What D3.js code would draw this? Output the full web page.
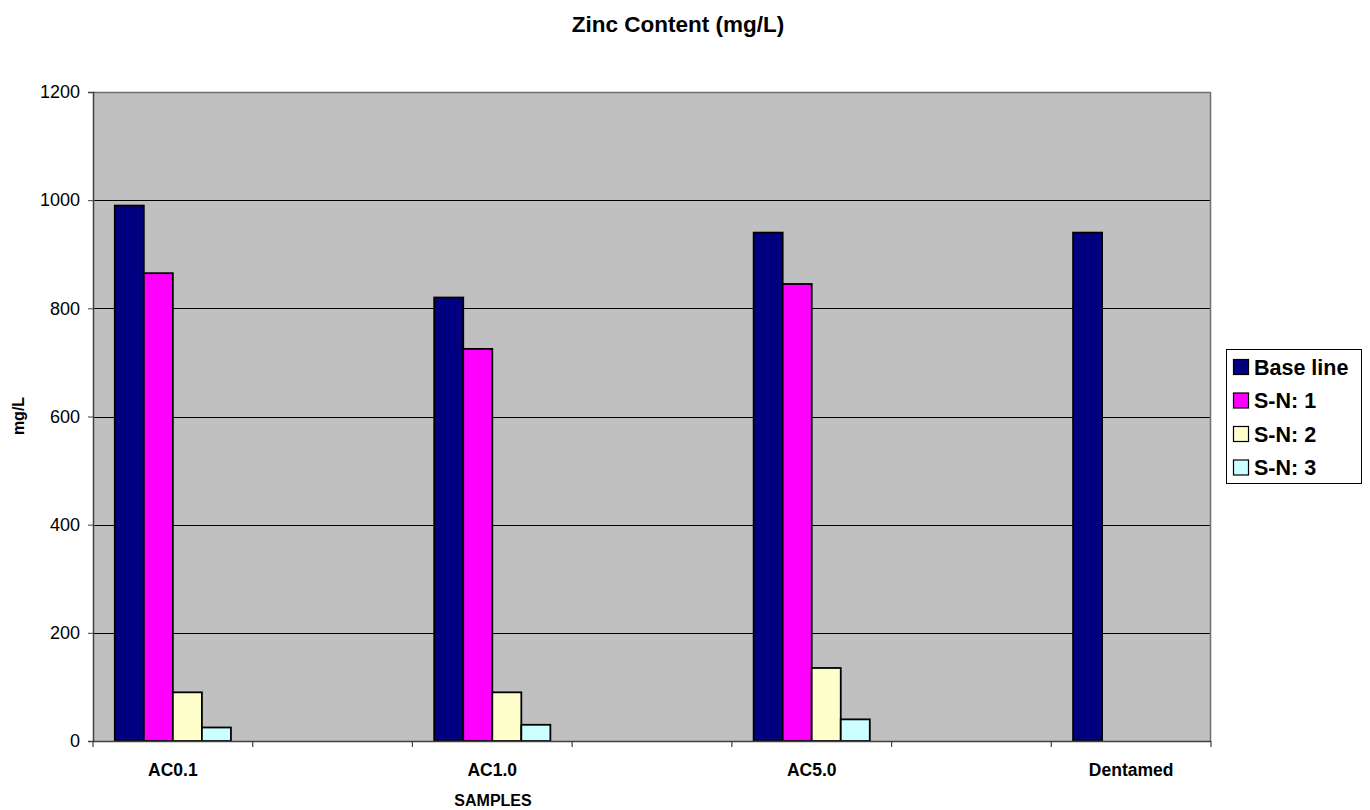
<!DOCTYPE html>
<html>
<head>
<meta charset="utf-8">
<script src="https://cdn.jsdelivr.net/npm/d3@7"></script>
<style>
  html, body { margin: 0; padding: 0; background: #ffffff; }
  svg { display: block; font-family: "Liberation Sans", Arial, sans-serif; }
</style>
</head>
<body>
<svg id="chart" width="1370" height="810"></svg>
<script>
// Sample groups along the x axis (blank slots keep the spacing between groups)
const categories = ["AC0.1", "", "AC1.0", "", "AC5.0", "", "Dentamed"];
const seriesNames = ["Base line", "S-N: 1", "S-N: 2", "S-N: 3"];
const seriesColors = ["#000080", "#FF00FF", "#FFFFCC", "#CCFFFF"];

// Zinc content per series, one value per category slot (null = no bar)
const baseLine = [990, null, 820, null, 940, null, 940];
const sn1      = [865, null, 725, null, 845, null, null];
const sn2      = [90,  null, 90,  null, 135, null, null];
const sn3      = [25,  null, 30,  null, 40,  null, null];
const seriesValues = [baseLine, sn1, sn2, sn3];

const yTicks = [0, 200, 400, 600, 800, 1000, 1200];

const svg = d3.select("#chart");
const plot = { left: 93, right: 1211, top: 92, bottom: 741 };

const x0 = d3.scaleBand()
  .domain(d3.range(categories.length))
  .range([plot.left, plot.right])
  .paddingInner(0).paddingOuter(0);

const x1 = d3.scaleBand()
  .domain(d3.range(seriesNames.length))
  .range([0, x0.bandwidth()])
  .paddingInner(0).paddingOuter(0.75);

const y = d3.scaleLinear().domain([0, 1200]).range([plot.bottom, plot.top]);

// plot background
svg.append("rect")
  .attr("x", plot.left).attr("y", plot.top)
  .attr("width", plot.right - plot.left).attr("height", plot.bottom - plot.top)
  .attr("fill", "#C0C0C0");

// horizontal gridlines
svg.append("g")
  .selectAll("line")
  .data(yTicks.filter(d => d > 0 && d < 1200))
  .join("line")
  .attr("x1", plot.left).attr("x2", plot.right)
  .attr("y1", d => Math.round(y(d)) + 0.5).attr("y2", d => Math.round(y(d)) + 0.5)
  .attr("stroke", "#000").attr("stroke-width", 1);

// plot border (top and right)
svg.append("path")
  .attr("d", `M${plot.left},${plot.top + 0.5}H${plot.right - 0.5}V${plot.bottom}`)
  .attr("fill", "none").attr("stroke", "#707070").attr("stroke-width", 1.5);

// bars
const groups = svg.append("g")
  .selectAll("g")
  .data(seriesValues)
  .join("g")
  .attr("fill", (d, i) => seriesColors[i]);

groups.selectAll("rect")
  .data((vals, si) => vals.map((v, ci) => ({ v, ci, si })).filter(d => d.v != null))
  .join("rect")
  .attr("x", d => x0(d.ci) + x1(d.si))
  .attr("y", d => y(d.v))
  .attr("width", x1.bandwidth())
  .attr("height", d => y(0) - y(d.v))
  .attr("stroke", "#000").attr("stroke-width", 1.8);

// y axis
const yAxis = svg.append("g")
  .attr("transform", `translate(${plot.left},0)`)
  .call(d3.axisLeft(y).tickValues(yTicks).tickSize(5).tickPadding(8).tickFormat(d3.format("d")));
yAxis.select(".domain").attr("stroke", "#404040").attr("stroke-width", 1.5);
yAxis.selectAll(".tick line").attr("stroke", "#404040");
yAxis.selectAll("text")
  .attr("font-size", "18px")
  .attr("font-family", "Liberation Sans, Arial, sans-serif")
  .attr("fill", "#000");

// x axis: tick marks at slot boundaries
const xAxis = svg.append("g");
xAxis.append("line")
  .attr("x1", plot.left).attr("x2", plot.right)
  .attr("y1", plot.bottom + 0.5).attr("y2", plot.bottom + 0.5)
  .attr("stroke", "#404040").attr("stroke-width", 1.5);
xAxis.selectAll("line.tk")
  .data(d3.range(categories.length + 1))
  .join("line")
  .attr("class", "tk")
  .attr("x1", i => i < categories.length ? x0(i) : plot.right)
  .attr("x2", i => i < categories.length ? x0(i) : plot.right)
  .attr("y1", plot.bottom).attr("y2", plot.bottom + 6)
  .attr("stroke", "#404040").attr("stroke-width", 1.2);
xAxis.selectAll("text")
  .data(categories)
  .join("text")
  .attr("x", (d, i) => x0(i) + x0.bandwidth() / 2)
  .attr("y", 776)
  .attr("text-anchor", "middle")
  .attr("font-size", "17.5px")
  .attr("font-weight", "bold")
  .text(d => d);

// titles
svg.append("text")
  .attr("x", 678).attr("y", 32)
  .attr("text-anchor", "middle")
  .attr("font-size", "22.5px").attr("font-weight", "bold")
  .text("Zinc Content (mg/L)");

svg.append("text")
  .attr("x", 493).attr("y", 806)
  .attr("text-anchor", "middle")
  .attr("font-size", "16px").attr("font-weight", "bold")
  .text("SAMPLES");

svg.append("text")
  .attr("transform", "translate(24,416) rotate(-90)")
  .attr("text-anchor", "middle")
  .attr("font-size", "16px").attr("font-weight", "bold")
  .text("mg/L");

// legend
const legend = svg.append("g");
legend.append("rect")
  .attr("x", 1226.5).attr("y", 349.5)
  .attr("width", 135).attr("height", 134)
  .attr("fill", "#fff").attr("stroke", "#000").attr("stroke-width", 1);
const items = legend.selectAll("g.item")
  .data(seriesNames)
  .join("g")
  .attr("class", "item")
  .attr("transform", (d, i) => `translate(1233,${367 + i * 33.5})`);
items.append("rect")
  .attr("x", 0.5).attr("y", -7.5)
  .attr("width", 15).attr("height", 15)
  .attr("fill", (d, i) => seriesColors[i])
  .attr("stroke", "#000").attr("stroke-width", 1.2);
items.append("text")
  .attr("x", 21).attr("y", 7.5)
  .attr("font-size", "21.5px").attr("font-weight", "bold")
  .text(d => d);
</script>
</body>
</html>
